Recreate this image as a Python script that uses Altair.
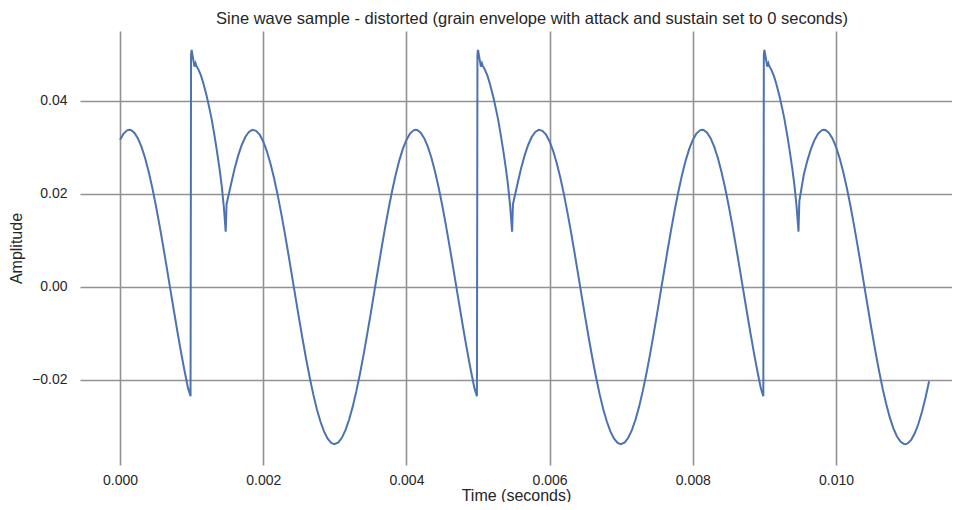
import altair as alt
import pandas as pd

# Time values in milliseconds
time_ms = [
    0.000, 0.050, 0.100, 0.130, 0.150, 0.200, 0.250, 0.300, 0.350, 0.400, 0.450, 0.500, 0.550,
    0.600, 0.650, 0.700, 0.750, 0.800, 0.850, 0.900, 0.950, 0.985,
    0.992, 1.000, 1.040, 1.055, 1.065, 1.094, 1.130, 1.164, 1.211, 1.250, 1.281, 1.320, 1.351,
    1.390, 1.420, 1.450, 1.476, 1.488, 1.550, 1.600, 1.650, 1.700, 1.750, 1.800, 1.850, 1.900,
    1.950, 2.000, 2.050, 2.100, 2.150, 2.200, 2.250, 2.300, 2.350, 2.400, 2.450, 2.500, 2.550,
    2.600, 2.650, 2.700, 2.750, 2.800, 2.850, 2.900, 2.950, 2.995, 3.050, 3.100, 3.150, 3.200,
    3.250, 3.300, 3.350, 3.400, 3.450, 3.500, 3.550, 3.600, 3.650, 3.700, 3.750, 3.800, 3.850,
    3.900, 3.950, 4.000,
    4.050, 4.100, 4.130, 4.150, 4.200, 4.250, 4.300, 4.350, 4.400, 4.450, 4.500, 4.550,
    4.600, 4.650, 4.700, 4.750, 4.800, 4.850, 4.900, 4.950, 4.985,
    4.992, 5.000, 5.040, 5.055, 5.065, 5.094, 5.130, 5.164, 5.211, 5.250, 5.281, 5.320, 5.351,
    5.390, 5.420, 5.450, 5.476, 5.488, 5.550, 5.600, 5.650, 5.700, 5.750, 5.800, 5.850, 5.900,
    5.950, 6.000, 6.050, 6.100, 6.150, 6.200, 6.250, 6.300, 6.350, 6.400, 6.450, 6.500, 6.550,
    6.600, 6.650, 6.700, 6.750, 6.800, 6.850, 6.900, 6.950, 6.995, 7.050, 7.100, 7.150, 7.200,
    7.250, 7.300, 7.350, 7.400, 7.450, 7.500, 7.550, 7.600, 7.650, 7.700, 7.750, 7.800, 7.850,
    7.900, 7.950, 8.000,
    8.050, 8.100, 8.130, 8.150, 8.200, 8.250, 8.300, 8.350, 8.400, 8.450, 8.500, 8.550,
    8.600, 8.650, 8.700, 8.750, 8.800, 8.850, 8.900, 8.950, 8.985,
    8.992, 9.000, 9.040, 9.055, 9.065, 9.094, 9.130, 9.164, 9.211, 9.250, 9.281, 9.320, 9.351,
    9.390, 9.420, 9.450, 9.476, 9.488, 9.550, 9.600, 9.650, 9.700, 9.750, 9.800, 9.830, 9.850,
    9.900, 9.950, 10.000, 10.050, 10.100, 10.150, 10.200, 10.250, 10.300, 10.350, 10.400,
    10.450, 10.500, 10.550, 10.600, 10.650, 10.700, 10.750, 10.800, 10.850, 10.900, 10.950,
    10.965, 11.000, 11.050, 11.100, 11.150, 11.200, 11.250, 11.300,
]

amplitude = [
    0.03164, 0.03298, 0.03368, 0.03380, 0.03375, 0.03317, 0.03195, 0.03013, 0.02773, 0.02479,
    0.02138, 0.01757, 0.01342, 0.00901, 0.00443, -0.00024, -0.00490, -0.00946, -0.01384,
    -0.01797, -0.02175, -0.02350,
    0.05000, 0.05100, 0.04740, 0.04810, 0.04760, 0.04680, 0.04550, 0.04380, 0.04100, 0.03830,
    0.03600, 0.03250, 0.02950, 0.02540, 0.02180, 0.01720, 0.01190, 0.01780, 0.02210, 0.02541,
    0.02825, 0.03054, 0.03225, 0.03333, 0.03379, 0.03359, 0.03276, 0.03129, 0.02923, 0.02661,
    0.02348, 0.01991, 0.01594, 0.01168, 0.00720, 0.00257, -0.00211, -0.00674, -0.01124,
    -0.01554, -0.01953, -0.02315, -0.02633, -0.02899, -0.03111, -0.03264, -0.03354, -0.03380,
    -0.03341, -0.03238, -0.03074, -0.02850, -0.02573, -0.02245, -0.01875, -0.01470, -0.01036,
    -0.00582, -0.00117, 0.00350, 0.00811, 0.01256, 0.01678, 0.02065, 0.02414, 0.02718, 0.02969,
    0.03163,
    0.03298, 0.03368, 0.03380, 0.03375, 0.03317, 0.03195, 0.03013, 0.02773, 0.02479,
    0.02138, 0.01757, 0.01342, 0.00901, 0.00443, -0.00024, -0.00490, -0.00946, -0.01384,
    -0.01797, -0.02175, -0.02350,
    0.05000, 0.05100, 0.04740, 0.04810, 0.04760, 0.04680, 0.04550, 0.04380, 0.04100, 0.03830,
    0.03600, 0.03250, 0.02950, 0.02540, 0.02180, 0.01720, 0.01190, 0.01780, 0.02210, 0.02541,
    0.02825, 0.03054, 0.03225, 0.03333, 0.03379, 0.03359, 0.03276, 0.03129, 0.02923, 0.02661,
    0.02348, 0.01991, 0.01594, 0.01168, 0.00720, 0.00257, -0.00211, -0.00674, -0.01124,
    -0.01554, -0.01953, -0.02315, -0.02633, -0.02899, -0.03111, -0.03264, -0.03354, -0.03380,
    -0.03341, -0.03238, -0.03074, -0.02850, -0.02573, -0.02245, -0.01875, -0.01470, -0.01036,
    -0.00582, -0.00117, 0.00350, 0.00811, 0.01256, 0.01678, 0.02065, 0.02414, 0.02718, 0.02969,
    0.03163,
    0.03298, 0.03368, 0.03380, 0.03375, 0.03317, 0.03195, 0.03013, 0.02773, 0.02479,
    0.02138, 0.01757, 0.01342, 0.00901, 0.00443, -0.00024, -0.00490, -0.00946, -0.01384,
    -0.01797, -0.02175, -0.02350,
    0.05000, 0.05100, 0.04740, 0.04810, 0.04760, 0.04680, 0.04550, 0.04380, 0.04100, 0.03830,
    0.03600, 0.03250, 0.02950, 0.02540, 0.02180, 0.01720, 0.01190, 0.01850, 0.02414, 0.02718,
    0.02969, 0.03163, 0.03298, 0.03368, 0.03380, 0.03375, 0.03317, 0.03195, 0.03013, 0.02773,
    0.02479, 0.02138, 0.01757, 0.01342, 0.00901, 0.00443, -0.00024, -0.00490, -0.00946,
    -0.01384, -0.01797, -0.02175, -0.02511, -0.02799, -0.03034, -0.03210, -0.03325, -0.03377,
    -0.03380, -0.03364, -0.03287, -0.03147, -0.02947, -0.02690, -0.02381, -0.02027,
]

x_ticks = [0.000, 0.002, 0.004, 0.006, 0.008, 0.010]
y_ticks = [-0.02, 0.00, 0.02, 0.04]

df = pd.DataFrame({"t": [v / 1000.0 for v in time_ms], "amp": amplitude})

FONT = "Liberation Sans"
TEXT = "#262626"

chart = (
    alt.Chart(df)
    .mark_line(color="#4c72b0", strokeWidth=2)
    .encode(
        x=alt.X(
            "t:Q",
            scale=alt.Scale(domain=[-0.000559, 0.011620], nice=False, zero=False),
            axis=alt.Axis(
                title="Time (seconds)",
                values=x_ticks,
                format=".3f",
                labelPadding=8,
                titlePadding=0,
            ),
        ),
        y=alt.Y(
            "amp:Q",
            scale=alt.Scale(domain=[-0.03828, 0.05505], nice=False, zero=False),
            axis=alt.Axis(
                title="Amplitude",
                values=y_ticks,
                format=".2f",
                labelPadding=13,
                titlePadding=7,
            ),
        ),
    )
    .properties(
        width=872,
        height=434,
        autosize=alt.AutoSizeParams(type="none"),
        padding={"left": 72, "top": 23, "right": 0, "bottom": 37},
        title=alt.TitleParams(
            text="Sine wave sample - distorted (grain envelope with attack and sustain set to 0 seconds)",
            font=FONT,
            fontSize=16.5,
            fontWeight="normal",
            color=TEXT,
            anchor="middle",
            dx=16,
            offset=4,
        ),
        background="white",
    )
    .configure_axis(
        grid=True,
        gridColor="#929292",
        gridWidth=1.6,
        domain=False,
        ticks=False,
        labelFont=FONT,
        labelFontSize=14,
        labelColor=TEXT,
        titleFont=FONT,
        titleFontSize=16,
        titleFontWeight="normal",
        titleColor=TEXT,
    )
    .configure_view(stroke="transparent")
)

chart.save("out.html", embed_options={"renderer": "svg", "actions": False})
